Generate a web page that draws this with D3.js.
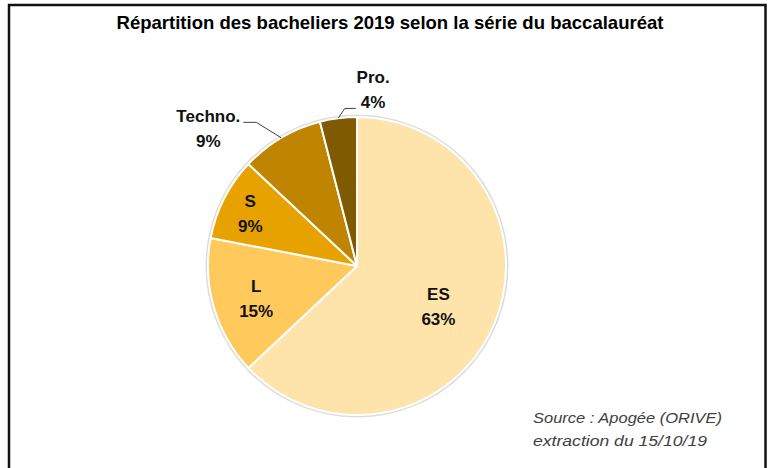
<!DOCTYPE html>
<html lang="fr">
  <head>
    <meta charset="utf-8">
    <title>Répartition des bacheliers 2019</title>
    <script src="https://cdn.jsdelivr.net/npm/d3@7"></script>
    <style>
      body { margin: 0; background: #fff; }
      svg text { font-family: "Liberation Sans", Arial, sans-serif; }
    </style>
  </head>
  <body>
    <div id="chart"></div>
    <script>
      // data
      const title = "Répartition des bacheliers 2019 selon la série du baccalauréat";
      const categories = ["ES", "L", "S", "Techno.", "Pro."];
      const shares = [63, 15, 9, 9, 4];
      const colors = ["#fee3aa", "#ffc95b", "#e8a200", "#bf8500", "#805a00"];
      const sourceLines = ["Source : Apogée (ORIVE)", "extraction du 15/10/19"];

      // label placement: shift from mid angle (deg) and radius as share of the pie radius
      const labelShift = [3, -1.4, -0.6, -16.6, 12.4];
      const labelRadius = [0.61, 0.71, 0.80, 1.36, 1.19];
      const outside = [false, false, false, true, true];

      const W = 771, H = 468;
      const cx = 357, cy = 266, R = 149;

      const svg = d3.select("#chart").append("svg")
          .attr("width", W)
          .attr("height", H);

      svg.append("rect")
          .attr("x", 9).attr("y", 5)
          .attr("width", 756.5).attr("height", 500)
          .attr("fill", "#fff")
          .attr("stroke", "#111")
          .attr("stroke-width", 2.5);

      svg.append("text")
          .attr("x", 390).attr("y", 29)
          .attr("text-anchor", "middle")
          .attr("font-size", 18.5)
          .attr("font-weight", "bold")
          .attr("fill", "#000")
          .attr("textLength", 547)
          .attr("lengthAdjust", "spacingAndGlyphs")
          .text(title);

      const data = categories.map((c, i) => ({ name: c, value: shares[i], i: i }));

      const pie = d3.pie().sort(null).value(d => d.value);
      const arcs = pie(data);
      const arc = d3.arc().innerRadius(0).outerRadius(R);

      const g = svg.append("g").attr("transform", `translate(${cx},${cy})`);

      g.append("circle")
          .attr("r", R + 1.5)
          .attr("fill", "none")
          .attr("stroke", "#dcdcdc")
          .attr("stroke-width", 2);

      g.selectAll("path.slice")
          .data(arcs)
          .enter().append("path")
          .attr("class", "slice")
          .attr("d", arc)
          .attr("fill", d => colors[d.data.i])
          .attr("stroke", "#fff")
          .attr("stroke-width", 2)
          .attr("stroke-linejoin", "round");

      function polar(angle, r) {
          return [Math.sin(angle) * r, -Math.cos(angle) * r];
      }

      arcs.forEach(d => {
          const i = d.data.i;
          const mid = (d.startAngle + d.endAngle) / 2;
          const [lx, ly] = polar(mid + labelShift[i] * Math.PI / 180, labelRadius[i] * R);

          const t = g.append("text")
              .attr("text-anchor", "middle")
              .attr("font-size", 17)
              .attr("font-weight", "bold")
              .attr("fill", "#111");
          const l1 = t.append("tspan").attr("x", lx).attr("y", ly - 6).text(d.data.name);
          const l2 = t.append("tspan").attr("x", lx).attr("y", ly + 19).text(d.data.value + "%");

          if (outside[i]) {
              const edge = polar(mid, R);
              let start, elbow;
              if (i === 3) {
                  // leader leaves from the right of the first line
                  const w = l1.node().getComputedTextLength();
                  start = [lx + w / 2 + 3, ly - 6];
                  elbow = [start[0] + 13, start[1]];
              } else {
                  // leader leaves from the left of the second line
                  const w = l2.node().getComputedTextLength();
                  start = [lx - w / 2 - 5, ly + 19];
                  elbow = [start[0] - 11, start[1]];
              }
              g.append("path")
                  .attr("d", d3.line()([start, elbow, edge]))
                  .attr("fill", "none")
                  .attr("stroke", "#404040")
                  .attr("stroke-width", 1);
          }
      });

      const src = svg.append("text")
          .attr("font-size", 15)
          .attr("font-style", "italic")
          .attr("fill", "#404040");
      src.append("tspan").attr("x", 533).attr("y", 423)
          .attr("textLength", 189).attr("lengthAdjust", "spacingAndGlyphs")
          .text(sourceLines[0]);
      src.append("tspan").attr("x", 533).attr("y", 446)
          .attr("textLength", 174).attr("lengthAdjust", "spacingAndGlyphs")
          .text(sourceLines[1]);
    </script>
  </body>
</html>
